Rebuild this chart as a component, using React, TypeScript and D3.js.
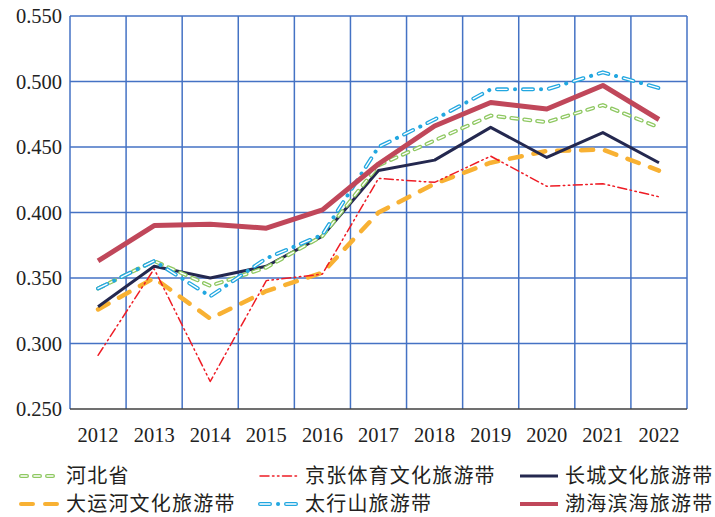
import React from "react";
import * as d3 from "d3";

const years = ["2012","2013","2014","2015","2016","2017","2018","2019","2020","2021","2022"];
const yTicks = [0.25, 0.3, 0.35, 0.4, 0.45, 0.5, 0.55];

const hebei = [0.342, 0.363, 0.344, 0.358, 0.382, 0.436, 0.455, 0.474, 0.469, 0.482, 0.465];
const jingzhang = [0.291, 0.357, 0.271, 0.348, 0.353, 0.426, 0.423, 0.443, 0.420, 0.422, 0.412];
const changcheng = [0.328, 0.359, 0.350, 0.359, 0.382, 0.432, 0.440, 0.465, 0.442, 0.461, 0.438];
const dayunhe = [0.326, 0.350, 0.319, 0.340, 0.354, 0.400, 0.422, 0.438, 0.447, 0.448, 0.432];
const taihang = [0.342, 0.363, 0.336, 0.365, 0.383, 0.450, 0.471, 0.494, 0.494, 0.507, 0.495];
const bohai = [0.363, 0.390, 0.391, 0.388, 0.402, 0.437, 0.466, 0.484, 0.479, 0.497, 0.471];

const names = ["河北省", "京张体育文化旅游带", "长城文化旅游带", "大运河文化旅游带", "太行山旅游带", "渤海滨海旅游带"];

type Style = { key: string; color: string; width: number; dash?: string; hollow?: boolean; dotDash?: boolean };
const styles: Style[] = [
  { key: "hebei", color: "#8FC862", width: 4, dash: "6 7", hollow: true },
  { key: "jingzhang", color: "#EE1C25", width: 1.5, dash: "9 3.5 1.5 3.5 1.5 3.5" },
  { key: "changcheng", color: "#24284F", width: 3 },
  { key: "dayunhe", color: "#F8B133", width: 4.5, dash: "12 12" },
  { key: "taihang", color: "#22A7E0", width: 4, dotDash: true, hollow: true },
  { key: "bohai", color: "#C0475A", width: 5 },
];
const series = [hebei, jingzhang, changcheng, dayunhe, taihang, bohai];
const drawOrder = [3, 1, 2, 0, 4, 5];

const L = 70, R = 687, T = 16, B = 409;

function StyledPath({ d, s }: { d: string; s: Style }) {
  if (s.dotDash) {
    return (
      <g fill="none" strokeLinecap="round" strokeLinejoin="round">
        <path d={d} stroke={s.color} strokeWidth={s.width} strokeDasharray="10 16" />
        <path d={d} stroke="#fff" strokeWidth={1.4} strokeDasharray="10 16" />
        <path d={d} stroke={s.color} strokeWidth={s.width} strokeDasharray="0.1 25.9" strokeDashoffset={-18} />
      </g>
    );
  }
  return (
    <g fill="none" strokeLinecap={s.dash ? "round" : "butt"} strokeLinejoin="round">
      <path d={d} stroke={s.color} strokeWidth={s.width} strokeDasharray={s.dash} />
      {s.hollow && <path d={d} stroke="#fff" strokeWidth={1.4} strokeDasharray={s.dash} />}
    </g>
  );
}

export default function App() {
  const x = d3.scaleBand<string>().domain(years).range([L, R]);
  const y = d3.scaleLinear().domain([0.25, 0.55]).range([B, T]);
  const cx = (yr: string) => (x(yr) as number) + x.bandwidth() / 2;
  const line = d3.line<number>().x((_, i) => cx(years[i])).y((v) => y(v));

  const legendPos = [
    [19, 476], [258, 476], [518, 476],
    [19, 504], [258, 504], [518, 504],
  ];

  return (
    <svg width={715} height={517} style={{ position: "absolute", left: 0, top: 0, background: "#fff" }}>
      <rect width={715} height={517} fill="#fff" />
      {/* grid */}
      <g stroke="#4472C4" strokeWidth={1.5}>
        {yTicks.filter((t) => t > 0.25).map((t) => (
          <line key={t} x1={L} x2={R} y1={y(t)} y2={y(t)} />
        ))}
        {years.map((yr) => (
          <line key={yr} x1={x(yr)} x2={x(yr)} y1={T} y2={B} />
        ))}
        <line x1={R} x2={R} y1={T} y2={B} />
      </g>
      <line x1={L} x2={R} y1={B} y2={B} stroke="#404040" strokeWidth={1.5} />
      {/* y labels */}
      <g fontFamily="'Liberation Serif', 'Times New Roman', serif" fontSize={20.5} fill="#222">
        {yTicks.map((t) => (
          <text key={t} x={62} y={y(t)} dy="0.35em" textAnchor="end">{t.toFixed(3)}</text>
        ))}
        {years.map((yr) => (
          <text key={yr} x={cx(yr)} y={442} textAnchor="middle">{yr}</text>
        ))}
      </g>
      {/* lines */}
      {drawOrder.map((i) => (
        <StyledPath key={styles[i].key} d={line(series[i]) as string} s={styles[i]} />
      ))}
      {/* legend */}
      {styles.map((s, i) => {
        const [lx, ly] = legendPos[i];
        const d = `M${lx + 2},${ly}L${lx + 40},${ly}`;
        return (
          <g key={s.key}>
            <StyledPath d={d} s={{ ...s, width: Math.min(s.width, 4) }} />
            <text x={lx + 47} y={ly} dy="0.36em" fontFamily="'Noto Sans CJK SC', sans-serif" fontSize={20} letterSpacing={1.2} fill="#231F20">
              {names[i]}
            </text>
          </g>
        );
      })}
    </svg>
  );
}
